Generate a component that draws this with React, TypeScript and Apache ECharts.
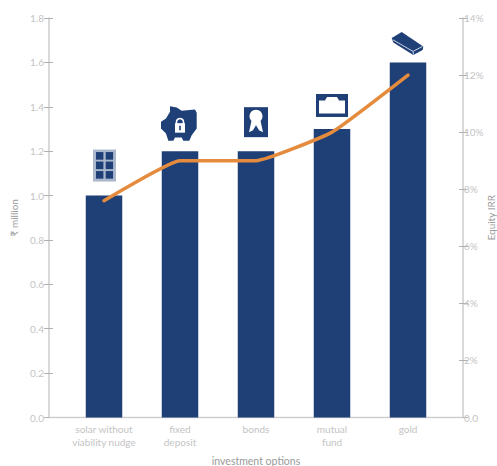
import React, { useEffect, useRef } from "react";
import * as echarts from "echarts";

const categories = [
  "solar without\nviability nudge",
  "fixed\ndeposit",
  "bonds",
  "mutual\nfund",
  "gold",
];
const costMillion = [1.0, 1.2, 1.2, 1.3, 1.6];
const equityIrr = [7.6, 9, 9, 10, 12];

const NAVY = "#1f3f77";
const ORANGE = "#e58b3e";
const AXIS_GREY = "#cdcdcd";
const TICK_GREY = "#b0b0b0";
const LABEL_GREY = "#c4c4c4";
const TITLE_GREY = "#9a9a9a";
const FONT = "Lato";

// Pictograms above each bar, in pixels relative to the top centre of the bar.
const solarIcon = () => {
  const cells: any[] = [];
  for (const y of [-43.5, -34, -24.5]) {
    for (const x of [-8, 1.7]) {
      cells.push({ type: "rect", shape: { x, y, width: 7.4, height: 7.6 }, style: { fill: NAVY } });
    }
  }
  return [
    { type: "rect", shape: { x: -11, y: -46, width: 23, height: 32 }, style: { fill: "#aab7cc" } },
    ...cells,
  ];
};

const piggyIcon = () => [
  {
    type: "polygon",
    shape: {
      points: [
        [-10, -45], [-3.3, -43.7], [1.7, -40.3], [15, -41.7], [16.7, -38.3], [16.7, -22.7],
        [11.7, -16], [9.3, -10.3], [3.3, -10.3], [1.7, -13.7], [-5, -13.7], [-6.7, -10.3],
        [-11.7, -10.3], [-14, -17.7], [-19, -22.7], [-19, -29.3], [-14, -32.7], [-10, -39.3],
      ],
    },
    style: { fill: NAVY },
  },
  { type: "circle", shape: { cx: 0, cy: -29, r: 3.6 }, style: { fill: "none", stroke: "#fff", lineWidth: 1.6 } },
  { type: "rect", shape: { x: -5, y: -28, width: 10, height: 9.5 }, style: { fill: "#fff" } },
  { type: "rect", shape: { x: -0.8, y: -25.5, width: 1.6, height: 4.5 }, style: { fill: NAVY } },
];

const bondIcon = () => [
  { type: "rect", shape: { x: -12, y: -44, width: 24, height: 30 }, style: { fill: NAVY } },
  { type: "polygon", shape: { points: [[-4, -33], [4, -33], [7, -19], [3, -21], [0, -26], [-3, -21], [-7, -19]] }, style: { fill: "#fff" } },
  { type: "circle", shape: { cx: 0, cy: -35, r: 6.5 }, style: { fill: "#fff" } },
];

const fundIcon = () => [
  { type: "rect", shape: { x: -16, y: -35, width: 32, height: 23 }, style: { fill: NAVY } },
  {
    type: "polygon",
    shape: { points: [[-13, -28.5], [-7, -28.5], [-5, -32], [5, -32], [7, -28.5], [13, -28.5], [13, -15.5], [-13, -15.5]] },
    style: { fill: "#fff" },
  },
];

const goldIcon = () => [
  {
    type: "polygon",
    shape: { points: [[-16.3, -24.5], [-6.3, -30.5], [15.3, -15.8], [14.7, -12.5], [5.3, -7.5], [-14.7, -19.8]] },
    style: { fill: NAVY },
  },
  {
    type: "polyline",
    shape: { points: [[-15, -22.5], [5, -11], [14.5, -16]] },
    style: { fill: "none", stroke: "#c9d3e4", lineWidth: 1 },
  },
  {
    type: "line",
    shape: { x1: 5, y1: -11, x2: 5.5, y2: -8 },
    style: { stroke: "#c9d3e4", lineWidth: 1 },
  },
];

const icons = [solarIcon, piggyIcon, bondIcon, fundIcon, goldIcon];

const tickLabelStyle = {
  color: LABEL_GREY,
  fontFamily: FONT,
  fontSize: 10,
  padding: [0, 0, 8, 0],
};

// Second, unlabelled axis on each side supplies the inward half of the crossing ticks.
const innerTicks = (position: "left" | "right", max: number, interval: number) => ({
  type: "value",
  position,
  offset: 17,
  min: 0,
  max,
  interval,
  axisLine: { show: false },
  axisLabel: { show: false },
  splitLine: { show: false },
  axisTick: { show: true, inside: true, length: 4, lineStyle: { color: TICK_GREY, width: 1 } },
});

export default function App() {
  const ref = useRef<HTMLDivElement>(null);

  useEffect(() => {
    document.body.style.margin = "0";
    const chart = echarts.init(ref.current!, null, { renderer: "svg" });
    chart.setOption({
      animation: false,
      backgroundColor: "#fff",
      textStyle: { fontFamily: FONT },
      grid: { left: 66, right: 51, top: 18, bottom: 48.5, outerBoundsMode: "none" },
      xAxis: {
        type: "category",
        data: categories,
        name: "investment options",
        nameLocation: "middle",
        nameGap: 38,
        nameTextStyle: { color: TITLE_GREY, fontFamily: FONT, fontSize: 10.5 },
        axisLine: { show: false },
        axisTick: { show: false },
        axisLabel: {
          interval: 0,
          margin: 5,
          color: LABEL_GREY,
          fontFamily: FONT,
          fontSize: 10,
          lineHeight: 13,
        },
      },
      yAxis: [
        {
          type: "value",
          position: "left",
          offset: 17,
          min: 0,
          max: 1.8,
          interval: 0.2,
          name: "₹ million",
          nameLocation: "middle",
          nameGap: 27,
          nameTextStyle: { color: TITLE_GREY, fontFamily: FONT, fontSize: 10 },
          axisLine: { show: true, lineStyle: { color: AXIS_GREY, width: 1.5 } },
          axisTick: { show: true, length: 5, lineStyle: { color: TICK_GREY, width: 1 } },
          axisLabel: {
            ...tickLabelStyle,
            margin: 5,
            formatter: (v: number) => v.toFixed(1),
          },
          splitLine: { show: false },
        },
        {
          type: "value",
          position: "right",
          offset: 17,
          min: 0,
          max: 14,
          interval: 2,
          name: "Equity IRR",
          nameLocation: "middle",
          nameGap: 23,
          nameMoveOverlap: false,
          nameTextStyle: { color: TITLE_GREY, fontFamily: FONT, fontSize: 10 },
          axisLine: { show: true, lineStyle: { color: AXIS_GREY, width: 1.5 } },
          axisTick: { show: true, length: 5, lineStyle: { color: TICK_GREY, width: 1 } },
          axisLabel: {
            ...tickLabelStyle,
            margin: 1,
            formatter: (v: number) => (v === 0 ? "0.0" : `${v}%`),
          },
          splitLine: { show: false },
        },
        innerTicks("left", 1.8, 0.2),
        innerTicks("right", 14, 2),
      ],
      // Baseline runs the full distance between the two vertical axes.
      graphic: [
        {
          type: "line",
          shape: { x1: 49, y1: 417.5, x2: 463, y2: 417.5 },
          style: { stroke: AXIS_GREY, lineWidth: 1.5 },
          z: 1,
        },
      ],
      series: [
        {
          type: "bar",
          yAxisIndex: 0,
          data: costMillion,
          barWidth: 36.5,
          itemStyle: { color: NAVY },
          z: 2,
        },
        {
          type: "custom",
          yAxisIndex: 0,
          data: costMillion.map((v, i) => [i, v]),
          encode: { x: 0, y: 1 },
          clip: false,
          z: 3,
          renderItem: (params: any, api: any) => {
            const [x, y] = api.coord([api.value(0), api.value(1)]);
            return { type: "group", x, y, children: icons[params.dataIndex]() };
          },
        },
        {
          type: "line",
          yAxisIndex: 1,
          data: equityIrr,
          smooth: 0.12,
          symbol: "none",
          lineStyle: { color: ORANGE, width: 3.5, cap: "round" },
          z: 4,
        },
      ],
    });
    return () => chart.dispose();
  }, []);

  return <div ref={ref} style={{ width: 497, height: 466 }} />;
}
